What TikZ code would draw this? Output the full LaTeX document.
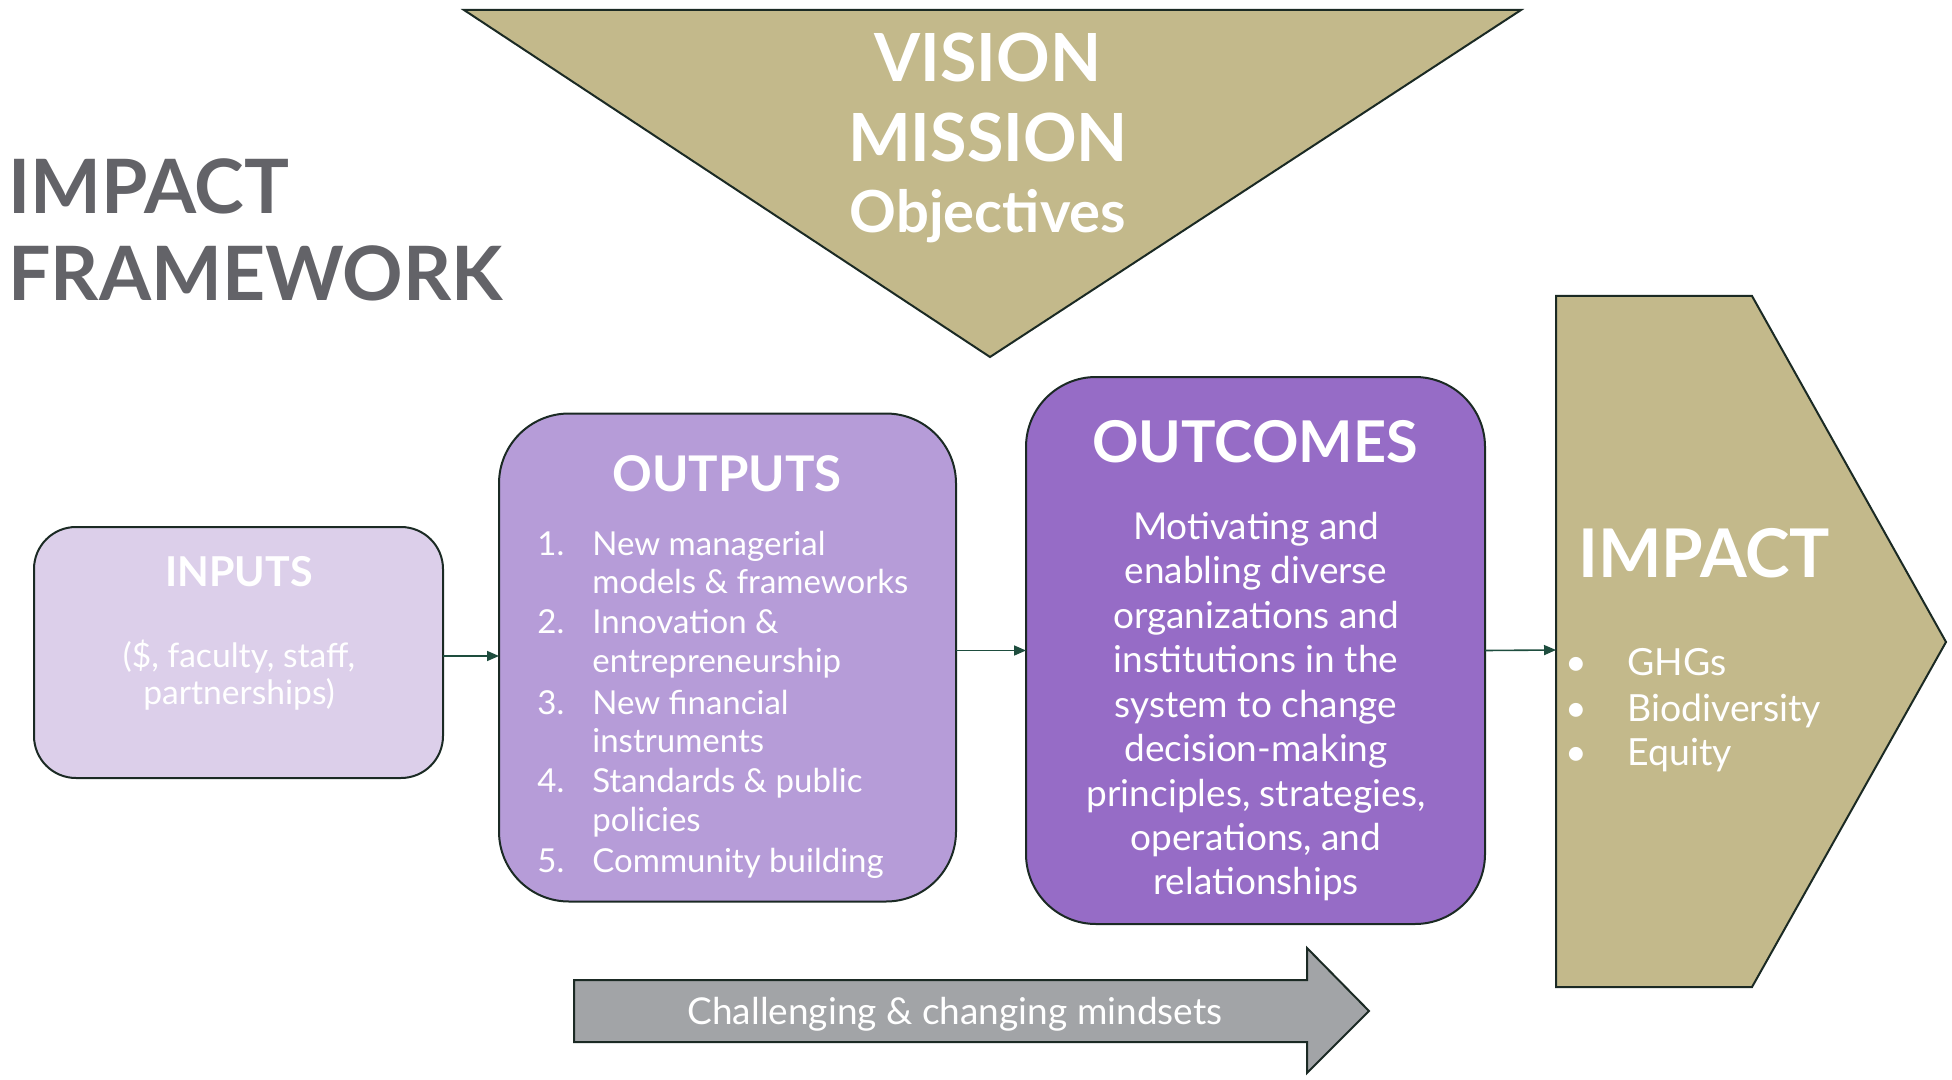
\documentclass[tikz,border=0pt]{standalone}
\usepackage{fontspec}
\setmainfont{Lato}
\usetikzlibrary{arrows.meta}
\definecolor{gold}{HTML}{C3B98B}
\definecolor{infill}{HTML}{DCCFEA}
\definecolor{outfill}{HTML}{B69CD8}
\definecolor{ocfill}{HTML}{966CC6}
\definecolor{grayarr}{HTML}{A2A4A7}
\definecolor{titlegray}{HTML}{636368}
\definecolor{outline}{HTML}{1B2A24}
\definecolor{connc}{HTML}{1E4D3E}
\newcommand{\fs}[1]{\fontsize{#1pt}{#1pt}\selectfont}
\begin{document}
\begin{tikzpicture}[x=0.5pt,y=-0.5pt,
  boxshape/.style={draw=outline, line width=1pt, inner sep=0pt, outer sep=0pt},
  conn/.style={draw=connc, line width=0.8pt, -{Triangle[length=6pt,width=5pt]}},
  txt/.style={inner sep=0pt, text=white, anchor=base},
  txtw/.style={inner sep=0pt, text=white, anchor=base west}]
\path[use as bounding box] (0,0) rectangle (1952,1080);

% title
\node[inner sep=0pt, anchor=base west, text=titlegray, font=\fs{37.5}\bfseries] (t1) at (8,214) {IMPACT};
\node[inner sep=0pt, anchor=base west, text=titlegray, font=\fs{37.5}\bfseries] (t2) at (8,301) {FRAMEWORK};

% vision triangle
\draw[fill=gold, draw=outline, line width=1pt] (464,10) -- (1521,10) -- (990,357) -- cycle;
\node[txt, font=\fs{33.2}\bfseries] (vis) at (988,81.5) {VISION};
\node[txt, font=\fs{33.2}\bfseries] (mis) at (988,162) {MISSION};
\node[txt, font=\fs{29}\bfseries] (obj) at (988,233) {Objectives};

% inputs
\node[boxshape, fill=infill, rounded corners=21pt, minimum width=204.5pt, minimum height=125.5pt] (inputs) at (238.5,652.5) {};
\node[txt, font=\fs{20.6}\bfseries] (inh) at (239,586) {INPUTS};
\node[txt, font=\fs{16.8}] (in1) at (239,667) {(\$, faculty, staff,};
\node[txt, font=\fs{16.8}] (in2) at (239,704) {partnerships)};

% outputs
\node[boxshape, fill=outfill, rounded corners=35pt, minimum width=228.5pt, minimum height=244pt] (outputs) at (727.5,657.5) {};
\node[txt, font=\fs{24.6}\bfseries] (outh) at (727,491) {OUTPUTS};
\foreach \n/\y in {1./555, 2./633, 3./714, 4./792, 5./872}
  \node[txtw, font=\fs{16.5}] (num\y) at (537,\y) {\n};
\foreach \t/\y in {New managerial/555, models \& frameworks/593, Innovation \&/633, entrepreneurship/672, New financial/714, instruments/752, Standards \& public/792, policies/831, Community building/872}
  \node[txtw, font=\fs{16.5}] (li\y) at (592,\y) {\t};

% outcomes
\node[boxshape, fill=ocfill, rounded corners=35pt, minimum width=229.5pt, minimum height=273.5pt] (outcomes) at (1255.5,650.5) {};
\node[txt, font=\fs{28.8}\bfseries] (och) at (1255,462.5) {OUTCOMES};
\foreach \t/\y in {Motivating and/539.5, enabling diverse/583, organizations and/628, institutions in the/672, system to change/717, decision-making/761, principles{,} strategies{,}/806, operations{,} and/850, relationships/894}
  \node[txt, font=\fs{18.5}] (oc\y) at (1256,\y) {\t};

% impact pentagon
\draw[fill=gold, draw=outline, line width=1pt] (1556,296) -- (1752,296) -- (1946,642) -- (1752,987) -- (1556,987) -- cycle;
\coordinate (impactW) at (1556,650);
\node[txtw, font=\fs{33.6}\bfseries] (imph) at (1578,577) {IMPACT};
\foreach \t/\y in {GHGs/675.5, Biodiversity/721, Equity/765.5}{
  \node[txtw, font=\fs{18.7}] (bul\y) at (1565,\y) {•};
  \node[txtw, font=\fs{18.7}] (it\y) at (1627,\y) {\t};
}

% connectors
\draw[conn] (inputs.east |- 0,656) -- (outputs.west |- 0,656);
\draw[conn] (outputs.east |- outcomes.west) -- (outcomes.west);
\draw[conn] (outcomes.east) -- (impactW);

% mindsets arrow
\draw[fill=grayarr, draw=outline, line width=1pt] (574,980) -- (1307,980) -- (1307,948) -- (1369,1011) -- (1307,1073) -- (1307,1042) -- (574,1042) -- cycle;
\node[txt, font=\fs{18.5}] (mind) at (955,1024) {Challenging \& changing mindsets};
\end{tikzpicture}
\end{document}
